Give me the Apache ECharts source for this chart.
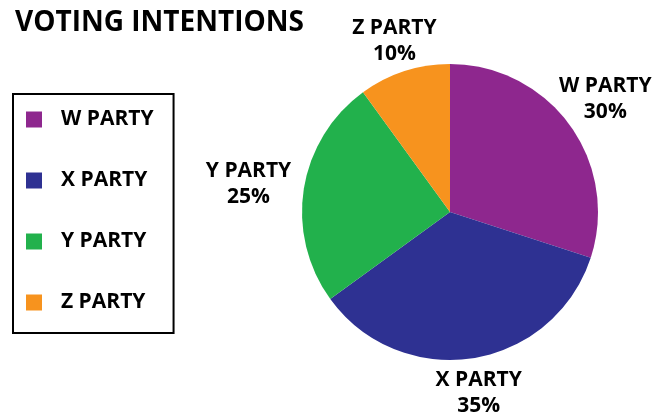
<!DOCTYPE html>
<html>
<head>
<meta charset="utf-8">
<script src="https://cdn.jsdelivr.net/npm/echarts@6/dist/echarts.min.js"></script>
<style>
    html, body { margin: 0; padding: 0; background: #fff; }
    #chart { width: 660px; height: 416px; }
</style>
</head>
<body>
<div id="chart"></div>
<script>
// 投票意向
const parties = ["W PARTY", "X PARTY", "Y PARTY", "Z PARTY"];
const shares = [30, 35, 25, 10];
const colors = ["#8e278e", "#2e3192", "#22b14c", "#f7931e"];

const chart = echarts.init(document.getElementById("chart"));
const font = "'Open Sans', 'Liberation Sans', sans-serif";

const pieCenter = [450, 212];
const pieRadius = 148;
// distance of each label centre from the pie centre
const labelDist = [192, 183, 204, 180];

const total = shares.reduce((a, b) => a + b, 0);

const option = {
    animation: false,
    title: {
        text: "VOTING INTENTIONS",
        left: 10,
        top: 4,
        textStyle: {
            fontFamily: font,
            fontWeight: "bold",
            fontSize: 28,
            color: "#000"
        }
    },
    legend: {
        orient: "vertical",
        left: 13,
        top: 94,
        padding: [15, 20, 20, 13],
        borderColor: "#000",
        borderWidth: 2,
        itemWidth: 16,
        itemHeight: 16,
        itemGap: 40,
        icon: "rect",
        textStyle: {
            fontFamily: font,
            fontWeight: "bold",
            fontSize: 21,
            lineHeight: 20,
            color: "#000",
            padding: [0, 0, 0, 14]
        },
        data: parties
    },
    series: [
        {
            type: "pie",
            center: pieCenter,
            radius: pieRadius,
            startAngle: 90,
            clockwise: true,
            color: colors,
            label: {
                position: "outside",
                formatter: "{b}\n{c}%",
                fontFamily: font,
                fontWeight: "bold",
                fontSize: 21,
                lineHeight: 26,
                color: "#000",
                overflow: "none"
            },
            labelLine: { show: false },
            labelLayout: function (params) {
                const i = params.dataIndex;
                let before = 0;
                for (let k = 0; k < i; k++) before += shares[k];
                const mid = (before + shares[i] / 2) / total;
                const ang = (90 - mid * 360) * Math.PI / 180;
                return {
                    x: pieCenter[0] + labelDist[i] * Math.cos(ang),
                    y: pieCenter[1] - labelDist[i] * Math.sin(ang) + (i === 2 ? 4 : 0),
                    align: "center",
                    verticalAlign: "middle"
                };
            },
            emphasis: { disabled: true },
            data: parties.map((name, i) => ({ name: name, value: shares[i] }))
        }
    ]
};
chart.setOption(option);
</script>
</body>
</html>
